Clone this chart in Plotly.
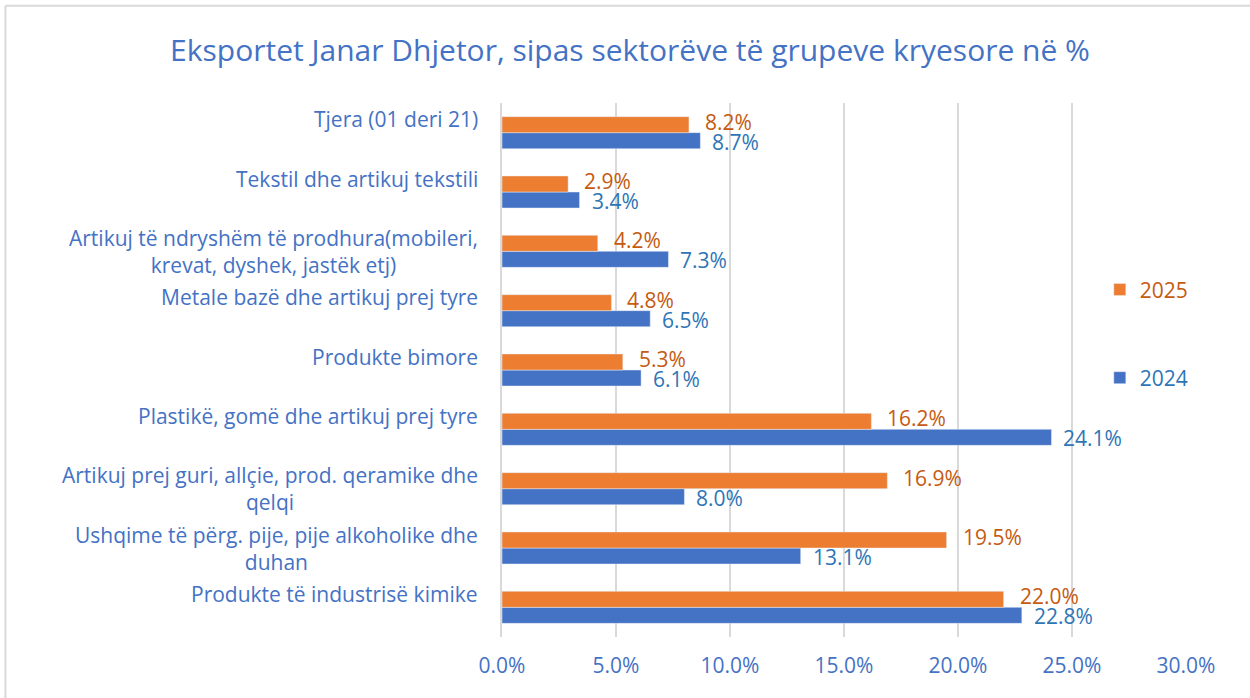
import plotly.graph_objects as go

categories = [
    "Produkte të industrisë kimike",
    "Ushqime të përg. pije, pije alkoholike dhe<br>duhan",
    "Artikuj prej guri, allçie, prod. qeramike dhe<br>qelqi",
    "Plastikë, gomë dhe artikuj prej tyre",
    "Produkte bimore",
    "Metale bazë dhe artikuj prej tyre",
    "Artikuj të ndryshëm të prodhura(mobileri,<br>krevat, dyshek, jastëk etj)",
    "Tekstil dhe artikuj tekstili",
    "Tjera (01 deri 21)",
]
cat_ids = [f"c{i}" for i in range(len(categories))]
values_2025 = [22.0, 19.5, 16.9, 16.2, 5.3, 4.8, 4.2, 2.9, 8.2]
values_2024 = [22.8, 13.1, 8.0, 24.1, 6.1, 6.5, 7.3, 3.4, 8.7]
x_ticks = [0, 5, 10, 15, 20, 25, 30]
x_tick_labels = [f"{v:.1f}%" for v in x_ticks]

FONT = "Open Sans"
FS = 21
BLUE = "#4472C4"
ORANGE = "#ED7D31"
BLUE_TXT = "#2E75B6"
ORANGE_TXT = "#C55A11"
GRID = "#D9D9D9"

fig = go.Figure()
fig.add_trace(go.Bar(
    y=cat_ids, x=values_2024, orientation="h", name="2024",
    marker=dict(color=BLUE), legend="legend2", hoverinfo="skip",
))
fig.add_trace(go.Bar(
    y=cat_ids, x=values_2025, orientation="h", name="2025",
    marker=dict(color=ORANGE), legend="legend", hoverinfo="skip",
))

# data labels at the bar ends
for cid, v in zip(cat_ids, values_2025):
    fig.add_annotation(x=v, y=cid, xref="x", yref="y", text=f"{v:.1f}%", showarrow=False,
                       xanchor="left", yanchor="middle", xshift=14, yshift=11,
                       font=dict(color=ORANGE_TXT, size=FS, family=FONT))
for cid, v in zip(cat_ids, values_2024):
    fig.add_annotation(x=v, y=cid, xref="x", yref="y", text=f"{v:.1f}%", showarrow=False,
                       xanchor="left", yanchor="middle", xshift=10, yshift=-9,
                       font=dict(color=BLUE_TXT, size=FS, family=FONT))

# category labels (centered multi-line, right-aligned block)
for cid, lab in zip(cat_ids, categories):
    txt = lab if "<br>" in lab else lab + "<br>\u00a0"
    fig.add_annotation(
        x=0, xref="paper", y=cid, yref="y", text=txt, showarrow=False,
        xanchor="right", yanchor="middle", align="center", xshift=-22,
        font=dict(color=BLUE, size=FS, family=FONT),
    )

# chart border (Excel chart area)
fig.add_shape(type="line", xref="paper", yref="paper", x0=-0.726, x1=1.2, y0=1.182, y1=1.182,
              line=dict(color=GRID, width=2))
fig.add_shape(type="line", xref="paper", yref="paper", x0=-0.726, x1=-0.726, y0=-0.2, y1=1.182,
              line=dict(color=GRID, width=2))

fig.update_layout(
    width=1250, height=698,
    margin=dict(l=502, r=64, t=103, b=61),
    paper_bgcolor="white", plot_bgcolor="white",
    barmode="group", bargap=0.46, bargroupgap=0,
    title=dict(text="Eksportet Janar Dhjetor, sipas sektorëve të grupeve kryesore në %",
               x=0.504, xanchor="center", y=0.928, yanchor="middle",
               font=dict(color=BLUE, size=30, family=FONT)),
    font=dict(family=FONT, color=BLUE, size=FS),
    xaxis=dict(range=[0, 30], tickvals=x_ticks, ticktext=x_tick_labels,
               showgrid=True, gridcolor=GRID, gridwidth=2, zeroline=False,
               showline=False, ticks="", ticklabelstandoff=14,
               tickfont=dict(color=BLUE, size=FS, family=FONT)),
    yaxis=dict(showticklabels=False, showgrid=False, showline=True, linecolor=GRID,
               linewidth=2, ticks="", categoryorder="array", categoryarray=cat_ids),
    legend=dict(x=0.874, y=0.65, xanchor="left", yanchor="middle", bgcolor="rgba(0,0,0,0)",
                font=dict(color=ORANGE_TXT, size=FS, family=FONT)),
    legend2=dict(x=0.874, y=0.485, xanchor="left", yanchor="middle", bgcolor="rgba(0,0,0,0)",
                 font=dict(color=BLUE_TXT, size=FS, family=FONT)),
    showlegend=True,
)

fig.write_html("out.html", config={"displayModeBar": False},
               post_script="document.body.style.margin='0';document.body.style.overflow='hidden';")
